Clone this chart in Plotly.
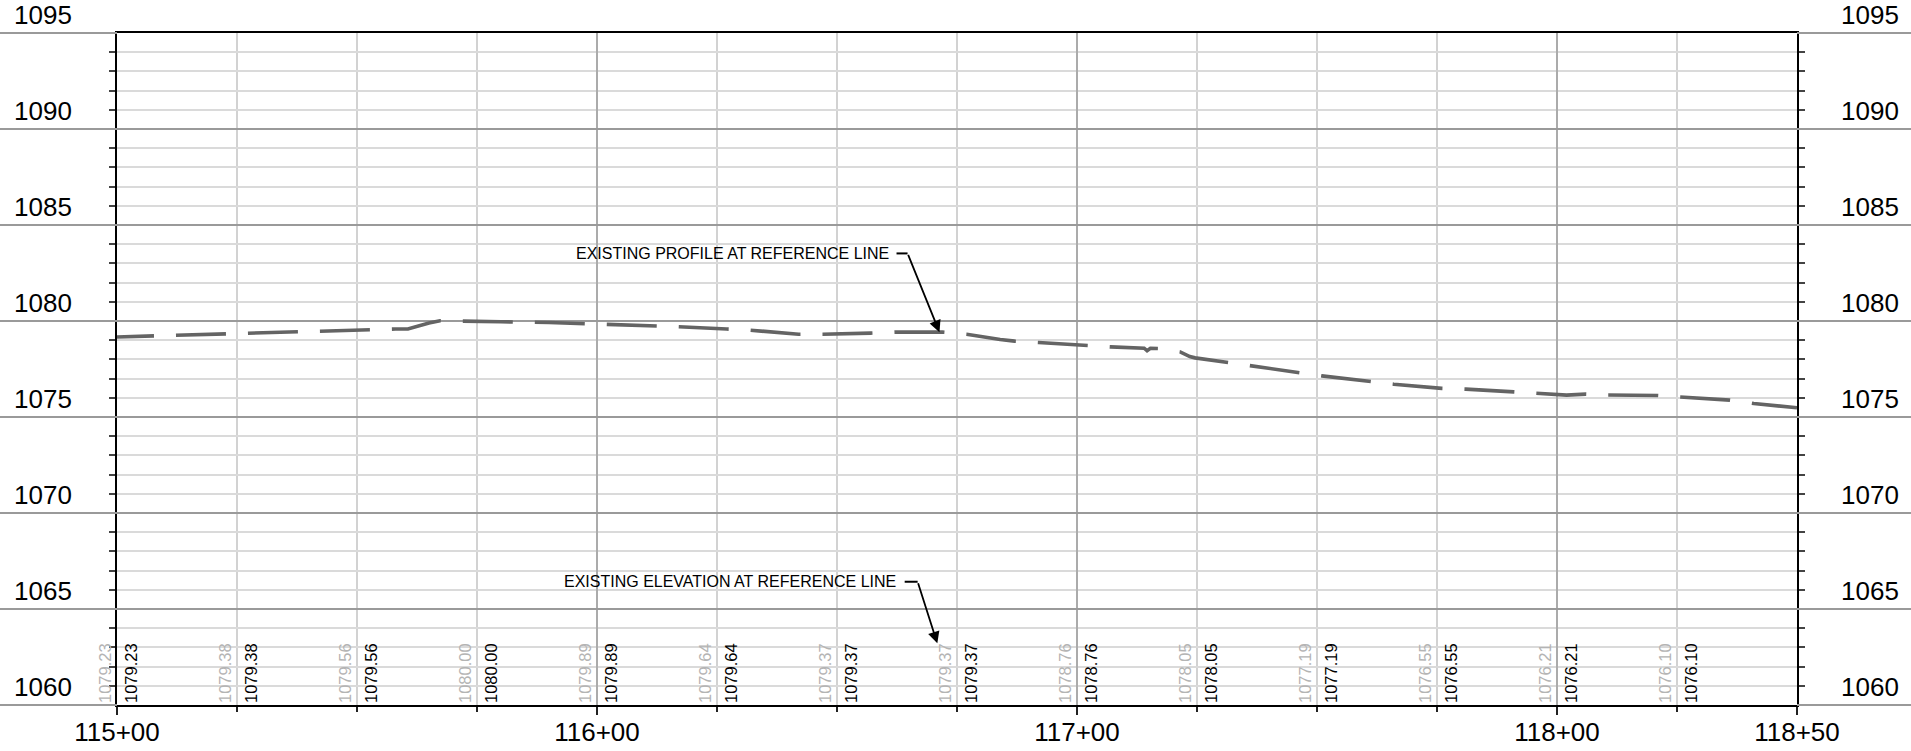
import plotly.graph_objects as go

# ---------------- data ----------------
profile_sta = [11500, 11523, 11538, 11553, 11558, 11560.6, 11563, 11565, 11567.3, 11575,
               11580, 11590, 11597, 11602, 11612, 11617, 11627, 11632, 11642, 11647,
               11657, 11662, 11672, 11677, 11684, 11687, 11692, 11702, 11707, 11714,
               11714.6, 11715.3, 11717, 11721.5, 11722.5, 11723.5, 11724.6, 11731, 11736, 11746,
               11751, 11761, 11766, 11776, 11781, 11791, 11796, 11802, 11806, 11810,
               11821, 11825, 11836, 11841, 11848, 11850]
profile_elev = [1079.17, 1079.35, 1079.44, 1079.56, 1079.58, 1079.58, 1079.75, 1079.90, 1080.01, 1080.00,
                1079.96, 1079.92, 1079.87, 1079.84, 1079.75, 1079.70, 1079.58, 1079.52, 1079.31, 1079.31,
                1079.37, 1079.42, 1079.42, 1079.31, 1079.04, 1078.95, 1078.88, 1078.70, 1078.65, 1078.58,
                1078.45, 1078.58, 1078.57, 1078.39, 1078.25, 1078.15, 1078.08, 1077.84, 1077.65, 1077.32,
                1077.14, 1076.83, 1076.71, 1076.49, 1076.45, 1076.31, 1076.22, 1076.14, 1076.19, 1076.15,
                1076.12, 1076.05, 1075.88, 1075.70, 1075.53, 1075.48]

label_sta = [11500, 11525, 11550, 11575, 11600, 11625, 11650, 11675, 11700, 11725,
             11750, 11775, 11800, 11825]
label_elev = [1079.23, 1079.38, 1079.56, 1080.00, 1079.89, 1079.64, 1079.37, 1079.37, 1078.76, 1078.05,
              1077.19, 1076.55, 1076.21, 1076.10]

x_tickvals = [11500, 11600, 11700, 11800, 11850]
x_ticktext = ["115+00", "116+00", "117+00", "118+00", "118+50"]
y_major = [1060, 1065, 1070, 1075, 1080, 1085, 1090, 1095]

X_RANGE = [11500, 11850]
Y_RANGE = [1060, 1095]

# ---------------- layout constants ----------------
W, H = 1911, 751
ML, MR, MT, MB = 117, 114, 33, 46
PW = W - ML - MR
FONT = "Liberation Sans, Arial, sans-serif"
MAJOR_GRID = "#9a9a9a"
MINOR_GRID = "#dadada"

fig = go.Figure()

dash = "37px,22px," + ",".join(["50px,22px"] * 30)
fig.add_trace(go.Scatter(
    x=profile_sta, y=profile_elev, mode="lines",
    line=dict(color="rgb(100,100,100)", width=3.6, dash=dash),
    hoverinfo="skip", showlegend=False))

annotations = []
shapes = []

# elevation labels at each 25 ft station
for s, e in zip(label_sta, label_elev):
    txt = f"{e:.2f}"
    annotations.append(dict(x=s, y=Y_RANGE[0], xref="x", yref="y", text=txt, showarrow=False,
                            textangle=-90, xanchor="center", yanchor="bottom", xshift=14, yshift=0,
                            font=dict(family=FONT, size=16.5, color="black")))
    annotations.append(dict(x=s, y=Y_RANGE[0], xref="x", yref="y", text=txt, showarrow=False,
                            textangle=-90, xanchor="center", yanchor="bottom", xshift=-12, yshift=0,
                            font=dict(family=FONT, size=16.5, color="#b4b4b4")))

# y labels on both sides and extended major lines
span = Y_RANGE[1] - Y_RANGE[0]
for v in y_major:
    yp = (v - Y_RANGE[0]) / span
    annotations.append(dict(x=(12 - ML) / PW, y=v, xref="paper", yref="y", text=str(v), showarrow=False,
                            xanchor="left", yanchor="bottom", yshift=1,
                            font=dict(family=FONT, size=26, color="black")))
    annotations.append(dict(x=(1901 - ML) / PW, y=v, xref="paper", yref="y", text=str(v), showarrow=False,
                            xanchor="right", yanchor="bottom", yshift=1,
                            font=dict(family=FONT, size=26, color="black")))
    shapes.append(dict(type="line", xref="paper", yref="paper", x0=-ML / PW, x1=0, y0=yp, y1=yp,
                       line=dict(color=MAJOR_GRID, width=2)))
    shapes.append(dict(type="line", xref="paper", yref="paper", x0=1, x1=1 + MR / PW, y0=yp, y1=yp,
                       line=dict(color=MAJOR_GRID, width=2)))

# callouts
callouts = [
    # text, text x, text y, stub x0, stub x1, stub y, tip x, tip y
    ("EXISTING PROFILE AT REFERENCE LINE", 11661.2, 1083.50, 11662.4, 11664.7, 1083.52, 11671.35, 1079.42),
    ("EXISTING ELEVATION AT REFERENCE LINE", 11662.8, 1066.44, 11664.1, 11666.8, 1066.42, 11670.9, 1063.21),
]
for t, tx, ty, sx0, sx1, sy, px, py in callouts:
    annotations.append(dict(x=tx, y=ty, xref="x", yref="y", text=t, showarrow=False,
                            xanchor="right", yanchor="middle",
                            font=dict(family=FONT, size=16, color="black")))
    shapes.append(dict(type="line", xref="x", yref="y", x0=sx0, x1=sx1, y0=sy, y1=sy,
                       line=dict(color="black", width=2)))
    annotations.append(dict(x=px, y=py, xref="x", yref="y", ax=sx1, ay=sy, axref="x", ayref="y",
                            text="", showarrow=True, arrowhead=2, arrowsize=1.3, arrowwidth=1.8,
                            arrowcolor="black", standoff=0))

fig.update_layout(
    width=W, height=H,
    margin=dict(l=ML, r=MR, t=MT, b=MB, pad=0, autoexpand=False),
    paper_bgcolor="white", plot_bgcolor="white",
    showlegend=False,
    font=dict(family=FONT, size=26, color="black"),
    annotations=annotations, shapes=shapes,
    xaxis=dict(range=X_RANGE, tickmode="array", tickvals=x_tickvals, ticktext=x_ticktext,
               ticks="outside", ticklen=8, tickwidth=2, tickcolor="#222",
               showline=True, linecolor="black", linewidth=2, mirror=True,
               showgrid=True, gridcolor="#ababab", gridwidth=1.5, automargin=False,
               tickfont=dict(family=FONT, size=26, color="black"), ticklabelstandoff=-5,
               zeroline=False,
               minor=dict(tickmode="linear", tick0=11500, dtick=25, ticks="outside", ticklen=5,
                          tickwidth=2, tickcolor="#222", showgrid=True, gridcolor="#d2d2d2", gridwidth=1.5)),
    yaxis=dict(range=Y_RANGE, tickmode="linear", tick0=1060, dtick=5, showticklabels=False,
               ticks="", showline=True, linecolor="black", linewidth=2, mirror="ticks",
               showgrid=True, gridcolor=MAJOR_GRID, gridwidth=2, zeroline=False, automargin=False,
               minor=dict(tickmode="linear", tick0=1060, dtick=1, ticks="outside", ticklen=6,
                          tickwidth=1.5, tickcolor="#444", showgrid=True, gridcolor=MINOR_GRID, gridwidth=2)),
)

fig.write_html("out.html", config={"displayModeBar": False},
               post_script="document.body.style.margin='0';document.body.style.overflow='hidden';")
